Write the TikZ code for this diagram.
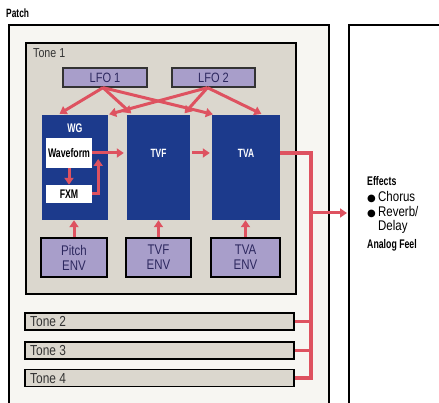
\documentclass[tikz,border=0pt]{standalone}
\usepackage{fontspec}
\setmainfont{Liberation Sans}[FakeStretch=0.82]
\newfontfamily\heavy{Liberation Sans}[FakeStretch=0.7]
\newfontfamily\symf{DejaVu Sans}
\usetikzlibrary{arrows.meta,positioning}
\definecolor{blkblue}{RGB}{28,58,140}
\definecolor{sigred}{RGB}{222,82,96}
\definecolor{lav}{RGB}{168,158,202}
\definecolor{beige}{RGB}{219,215,206}
\definecolor{paper}{RGB}{247,246,242}
\definecolor{inktext}{RGB}{45,40,95}
\begin{document}
\begin{tikzpicture}[x=1pt,y=-1pt,
  sig/.style={draw=sigred,line width=3pt,-{Triangle[length=7pt,width=9pt]}},
  wire/.style={draw=sigred,line width=3.2pt},
  blk/.style={fill=blkblue,minimum width=#1,minimum height=105pt,inner sep=0pt},
  blklbl/.style={text=white,inner sep=0pt,font=\heavy\bfseries\fontsize{12.5}{12.5}\selectfont},
  wbox/.style={fill=white,minimum width=46pt,inner sep=0pt,font=\heavy\bfseries\fontsize{12.5}{12.5}\selectfont},
  lfobox/.style={fill=lav,draw=black!80,line width=1.3pt,minimum height=19pt,inner sep=0pt,text=inktext,font=\fontsize{13.5}{13.5}\selectfont},
  envbox/.style={fill=lav,draw=black,line width=1.7pt,minimum height=39pt,inner sep=0pt,align=center,text=inktext,font=\fontsize{14}{15}\selectfont},
  tonebar/.style={fill=beige,draw=black,line width=1.7pt,minimum width=269pt,minimum height=17pt,inner sep=0pt},
  tonetxt/.style={anchor=west,inner sep=0pt,text=black!80,font=\fontsize{14.5}{14.5}\selectfont},
  fxtxt/.style={anchor=west,inner sep=0pt,font=\fontsize{14}{14}\selectfont},
  fxbold/.style={anchor=west,inner sep=0pt,font=\heavy\bfseries\fontsize{12.5}{12.5}\selectfont}]
  \clip (0,0) rectangle (439,403);
  \fill[white] (0,0) rectangle (439,403);
  \node[fxbold,font=\heavy\bfseries\fontsize{12}{12}\selectfont] (patchlbl) at (6,13) {Patch};
  \node[draw=black,line width=2.4pt,fill=paper,anchor=north west,minimum width=320pt,minimum height=420pt,inner sep=0pt] (patch) at (8,24) {};
  \node[draw=black,line width=1.6pt,fill=white,anchor=north west,minimum width=120pt,minimum height=420pt,inner sep=0pt] (fxbox) at (348,24) {};
  \node[draw=black,line width=1.8pt,fill=beige,anchor=north west,minimum width=270pt,minimum height=251pt,inner sep=0pt] (tone1) at (25,42) {};
  \node[tonetxt,font=\fontsize{13}{13}\selectfont] (tone1lbl) at (33,53) {Tone 1};

  \node[lfobox,minimum width=84pt] (lfoa) at (105,77.5) {LFO 1};
  \node[lfobox,minimum width=83pt] (lfob) at (213.5,77.5) {LFO 2};

  \node[blk=66pt] (wg) at (75,167.5) {};
  \node[blk=63pt] (tvf) at (158.5,167.5) {};
  \node[blk=68pt] (tva) at (246,167.5) {};
  \node[blklbl] (wglbl) at (75,128) {WG};
  \node[blklbl,font=\heavy\bfseries\fontsize{12}{12}\selectfont] (tvflbl) at (158.5,153) {TVF};
  \node[blklbl,font=\heavy\bfseries\fontsize{12}{12}\selectfont] (tvalbl) at (246,153) {TVA};
  \node[wbox,minimum height=30pt] (wave) at (69,153) {Waveform};
  \node[wbox,minimum height=18pt] (fxm) at (69,194) {FXM};

  \node[envbox,minimum width=66pt] (penv) at (74,257.5) {Pitch\\ENV};
  \node[envbox,minimum width=65pt] (tvfenv) at (158.5,257.5) {TVF\\ENV};
  \node[envbox,minimum width=69pt] (tvaenv) at (245.5,257.5) {TVA\\ENV};

  \node[tonebar] (tone2) at (159.5,321.5) {};
  \node[tonebar] (tone3) at (159.5,350.5) {};
  \node[tonebar] (tone4) at (159.5,378) {};
  \node[tonetxt] (tone2lbl) at (30,322) {Tone 2};
  \node[tonetxt] (tone3lbl) at (30,351) {Tone 3};
  \node[tonetxt] (tone4lbl) at (30,378.5) {Tone 4};

  \draw[sig,shorten >=2pt] ([xshift=-2pt]lfoa.south) -- ([xshift=16pt]wg.north west);
  \draw[sig,shorten >=2pt] ([xshift=-2pt]lfoa.south) -- ([xshift=6pt]tvf.north west);
  \draw[sig,shorten >=2pt] ([xshift=-2pt]lfoa.south) -- ([xshift=3pt]tva.north west);
  \draw[sig,shorten >=2pt] ([xshift=-6pt]lfob.south) -- ([xshift=-1pt]wg.north east);
  \draw[sig,shorten >=2pt] ([xshift=-6pt]lfob.south) -- ([xshift=-7pt]tvf.north east);
  \draw[sig,shorten >=2pt] ([xshift=-6pt]lfob.south) -- ([xshift=-17pt]tva.north east);

  \draw[sig] (penv.north) -- (penv.north |- wg.south);
  \draw[sig] (tvfenv.north) -- (tvfenv.north |- tvf.south);
  \draw[sig] (tvaenv.north) -- (tvaenv.north |- tva.south);

  \draw[sig] (wave.south) -- (fxm.north);
  \draw[sig] (fxm.east) -| ([xshift=6pt,yshift=-6pt]wave.east);
  \draw[sig,shorten >=3pt] (wave.east) -- (wave.east -| tvf.west);
  \draw[sig,shorten <=2pt,shorten >=2pt] (wave.east -| tvf.east) -- (wave.east -| tva.west);

  \coordinate (bus) at (311,0);
  \coordinate (fxin) at (311,213);
  \draw[wire] (wave.east -| tva.east) -| (bus |- tone4.east) -- (tone4.east);
  \draw[wire] (tone2.east) -- (tone2.east -| bus);
  \draw[wire] (tone3.east) -- (tone3.east -| bus);
  \draw[sig,shorten >=1pt] (fxin) -- (fxin -| fxbox.west);

  \node[fxbold] (fxhead) at (367,181) {Effects};
  \node[fxtxt] (fxchorus) at (367,197) {\makebox[11pt][l]{\symf\fontsize{10}{10}\selectfont ●}Chorus};
  \node[fxtxt] (fxreverb) at (367,212) {\makebox[11pt][l]{\symf\fontsize{10}{10}\selectfont ●}Reverb/};
  \node[fxtxt] (fxdelay) at (378,227) {Delay};
  \node[fxbold] (fxanalog) at (367,245) {Analog Feel};
\end{tikzpicture}
\end{document}
